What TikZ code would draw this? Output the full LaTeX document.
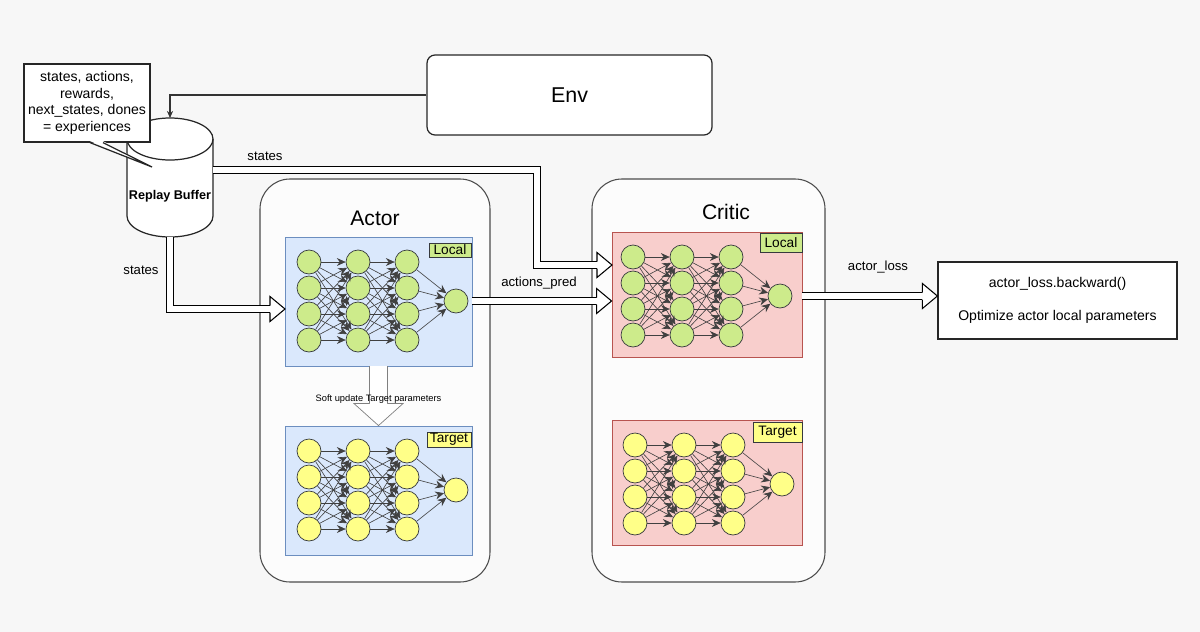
\documentclass[tikz,border=0pt]{standalone}
\usepackage{fontspec}
\setmainfont{Liberation Sans}
\usetikzlibrary{positioning}
\usetikzlibrary{fit}
\usetikzlibrary{calc}
\usetikzlibrary{arrows.meta}

\definecolor{bgcol}{HTML}{F7F7F7}
\definecolor{blueFill}{HTML}{DAE8FC}
\definecolor{blueLine}{HTML}{6C8EBF}
\definecolor{redFill}{HTML}{F8CECC}
\definecolor{redLine}{HTML}{B85450}
\definecolor{greenFill}{HTML}{CDEB8B}
\definecolor{yellowFill}{HTML}{FFFF88}
\definecolor{darkLine}{HTML}{36393D}

\tikzset{
    box/.style={draw=black!85, fill=white, line width=0.7pt, inner sep=0pt},
    container/.style={draw=black!70, fill=white!60!bgcol, line width=0.6pt, rounded corners=0.6cm, inner sep=0pt},
    panel/.style={draw=#1Line, fill=#1Fill, line width=0.5pt, inner sep=0pt},
    tag/.style={draw=darkLine, line width=0.4pt, inner sep=0pt, font=\fontsize{7.8}{9}\selectfont},
    neuron/.style={circle, draw=darkLine, line width=0.4pt, minimum size=0.48cm, inner sep=0pt},
    syn/.style={draw=black!75, line width=0.35pt, -{Stealth[length=5pt, width=4.5pt]}},
    flow/.style={draw=black, line width=0.6pt, double=white, double distance=3.4pt, shorten >=0.3cm},
    softshaft/.style={draw=black!50, line width=0.4pt, double=white, double distance=9.6pt, shorten >=0.44cm},
    lbl/.style={font=\fontsize{7.5}{9}\selectfont},
}

% hollow heads for the wide arrows
\newcommand{\headright}[1]{%
    \fill[white] ($(#1)+(-15,-12.5)$) -- (#1) -- ($(#1)+(-15,12.5)$) -- cycle;
    \draw[line width=0.6pt] ($(#1)+(-15,-3.5)$) -- ($(#1)+(-15,-12.5)$) -- (#1) -- ($(#1)+(-15,12.5)$) -- ($(#1)+(-15,3.5)$);
}
\newcommand{\headdown}[1]{%
    \fill[white] ($(#1)+(-24.5,-22)$) -- (#1) -- ($(#1)+(24.5,-22)$) -- cycle;
    \draw[line width=0.4pt, black!50] ($(#1)+(-8.8,-22)$) -- ($(#1)+(-24.5,-22)$) -- (#1) -- ($(#1)+(24.5,-22)$) -- ($(#1)+(8.8,-22)$);
}

% a small net: 3 layers of 4 neurons and one output neuron
\newcommand{\drawnet}[4]{%
    \foreach \l in {1,2,3}
        \foreach \r in {1,...,4}
            \node[neuron, fill=#4] (#1-\l-\r) at ({#2+(\l-1)*49}, {#3+(\r-1)*26}) {};
    \node[neuron, fill=#4] (#1-out) at ({#2+147}, {#3+39}) {};
    \foreach \l/\n in {1/2, 2/3}
        \foreach \a in {1,...,4}
            \foreach \b in {1,...,4}
                \draw[syn] (#1-\l-\a) -- (#1-\n-\b);
    \foreach \a in {1,...,4}
        \draw[syn] (#1-3-\a) -- (#1-out);
}

\begin{document}
\begin{tikzpicture}[x=0.02cm, y=-0.02cm]

    \fill[bgcol] (0,0) rectangle (1200,632);

    % environment and replay buffer
    \node[box, rounded corners=0.16cm, minimum width=5.7cm, minimum height=1.6cm,
        font=\fontsize{12.2}{14}\selectfont] (env) at (569.5,95) {Env};

    \draw[box] (127,139) -- (127,216) arc[start angle=180, end angle=0, x radius=43, y radius=21]
        -- (213,139) arc[start angle=0, end angle=-180, x radius=43, y radius=21] -- cycle;
    \draw[line width=0.7pt, black!85] (127,139) arc[start angle=180, end angle=0, x radius=43, y radius=21];
    \node[font=\bfseries\fontsize{7.2}{9}\selectfont] (buf) at (170,196) {Replay Buffer};
    \coordinate (buftop) at (170,118);
    \coordinate (bufbot) at (170,237);
    \coordinate (bufright) at (213,170);

    \node[box, minimum width=2.52cm, minimum height=1.56cm, align=center,
        font=\fontsize{8}{9.5}\selectfont] (note) at (87,103)
        {states, actions,\\ rewards,\\ next\_states, dones\\ = experiences};
    \coordinate (notetip) at (152,167);
    \fill[white] ($(note.south)+(3,-1.5)$) -- (notetip) -- ($(note.south)+(16,-1.5)$) -- cycle;
    \draw[line width=0.7pt, black!85] ($(note.south)+(3,0)$) -- (notetip) -- ($(note.south)+(16,0)$);

    % actor
    \node[container, fit={(260,179) (490,582)}] (actor) {};
    \node[font=\fontsize{12}{14}\selectfont] (actortitle) at (375,218) {Actor};
    \node[panel=blue, fit={(285,237) (472,366)}] (alocal) {};
    \node[panel=blue, fit={(285,426) (472,555)}] (atarget) {};
    \node[tag, fill=greenFill, minimum width=0.84cm, minimum height=0.28cm] (altag) at (450,250) {Local};
    \node[tag, fill=yellowFill, minimum width=0.88cm, minimum height=0.3cm] (attag) at (449,439.5) {Target};
    \drawnet{aL}{309}{262}{greenFill}
    \drawnet{aT}{309}{451}{yellowFill}

    % critic
    \node[container, fit={(592,179) (825,582)}] (critic) {};
    \node[font=\fontsize{12}{14}\selectfont] (critictitle) at (726,212) {Critic};
    \node[panel=red, fit={(612,232) (802,357)}] (clocal) {};
    \node[panel=red, fit={(612,420) (802,545)}] (ctarget) {};
    \node[tag, fill=greenFill, minimum width=0.84cm, minimum height=0.38cm] (cltag) at (781,242.5) {Local};
    \node[tag, fill=yellowFill, minimum width=0.98cm, minimum height=0.4cm] (cttag) at (777.5,432) {Target};
    \drawnet{cL}{633}{257}{greenFill}
    \drawnet{cT}{635}{445}{yellowFill}

    % loss
    \node[box, minimum width=4.78cm, minimum height=1.54cm, align=center,
        font=\fontsize{8}{9.6}\selectfont] (loss) at (1057.5,300.5)
        {actor\_loss.backward()\\[9.4pt] Optimize actor local parameters};

    % connectors
    \coordinate (cin) at (612,265);
    \coordinate (ain) at (285,309);
    \coordinate (apin) at (clocal.west |- aL-out);
    \coordinate (lossin) at (loss.west |- cL-out);
    \draw[line width=0.6pt, black!80, -{Stealth[length=4pt, width=3.5pt]}] (env.west) -| (buftop);
    \draw[flow] (bufright) -- (537,170) |- (cin);
    \headright{cin}
    \draw[flow] (bufbot) |- (ain);
    \headright{ain}
    \draw[flow] (alocal.east |- aL-out) -- (apin);
    \headright{apin}
    \draw[flow] (clocal.east |- cL-out) -- (lossin);
    \headright{lossin}
    \draw[softshaft] (alocal.south) -- (atarget.north);
    \headdown{atarget.north}
    \node[font=\fontsize{5.3}{6}\selectfont] (softlbl) at ($(alocal.south)!0.55!(atarget.north)$) {Soft update Target parameters};

    \node[lbl] (states1) at (265,156) {states};
    \node[lbl] (states2) at (141,270) {states};
    \node[lbl] (actlbl) at (539,283) {actions\_pred};
    \node[lbl] (losslbl) at (878,267) {actor\_loss};

\end{tikzpicture}
\end{document}
